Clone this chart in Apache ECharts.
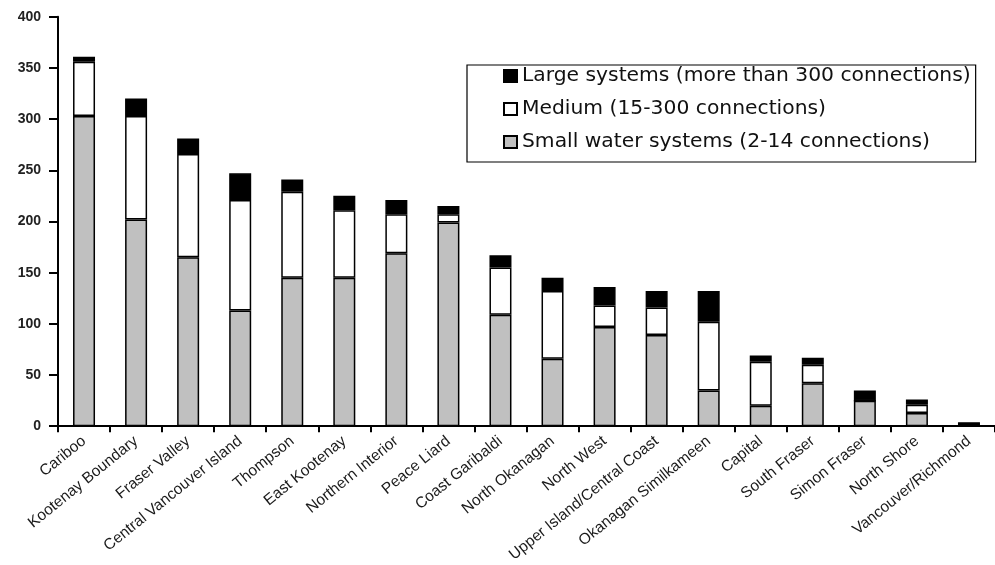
<!DOCTYPE html>
<html><head><meta charset="utf-8">
<script src="https://cdn.jsdelivr.net/npm/echarts@6/dist/echarts.min.js"></script>
<style>html,body{margin:0;padding:0;background:#fff}#c{width:995px;height:565px}</style>
</head><body><div id="c"></div>
<script>
const categories = ["Cariboo","Kootenay Boundary","Fraser Valley","Central Vancouver Island","Thompson","East Kootenay","Northern Interior","Peace Liard","Coast Garibaldi","North Okanagan","North West","Upper Island/Central Coast","Okanagan Similkameen","Capital","South Fraser","Simon Fraser","North Shore","Vancouver/Richmond"];
const small  = [303,202,165,113,145,145,169,199,109,66,97,89,35,20,42,25,13,0];
const medium = [53,101,101,108,84,66,38,8,46,66,21,27,67,43,18,0,8,0];
const large  = [5,17,15,26,12,14,14,8,12,13,18,16,30,6,7,10,5,4];
const yTicks = [0,50,100,150,200,250,300,350,400];
const names = ["Large systems (more than 300 connections)","Medium (15-300 connections)","Small water systems (2-14 connections)"];

const chart = echarts.init(document.getElementById('c'), null, {renderer:'canvas'});
const font = 'Liberation Sans, Arial, sans-serif';
function ser(name, data, color){
  return {name, type:'bar', stack:'s', data, barWidth:22,
    itemStyle:{color, borderColor:'#000', borderWidth:1.5}};
}
chart.setOption({
  animation:false,
  backgroundColor:'#fff',
  grid:{left:58, top:16.7, width:945, bottom:137.5, containLabel:false},
  legend:{
    data:names, orient:'vertical', left:467, top:65,
    padding:[1,5,10,36], itemGap:13, itemWidth:13, itemHeight:12,
    borderColor:'#000', borderWidth:1.2, icon:'rect',
    textStyle:{fontFamily:'DejaVu Sans, sans-serif', fontSize:20.3, color:'#111'},
    backgroundColor:'#fff'
  },
  xAxis:{type:'category', data:categories,
    axisLine:{lineStyle:{color:'#000', width:2}},
    axisTick:{show:true, length:6, lineStyle:{color:'#000', width:2}},
    axisLabel:{rotate:39, interval:0, fontFamily:font, fontSize:15.5, color:'#1a1a1a', margin:13}
  },
  yAxis:{type:'value', min:0, max:400, interval:50,
    axisLine:{show:true, lineStyle:{color:'#000', width:2}},
    axisTick:{show:true, length:9, lineStyle:{color:'#000', width:2}},
    splitLine:{show:false},
    axisLabel:{fontFamily:font, fontSize:14, color:'#222', fontWeight:'bold', margin:17,
      formatter: v => yTicks.includes(v) ? String(v) : ''}
  },
  series:[
    ser(names[2], small, '#c0c0c0'),
    ser(names[1], medium, '#ffffff'),
    ser(names[0], large, '#000000')
  ]
});
</script></body></html>
